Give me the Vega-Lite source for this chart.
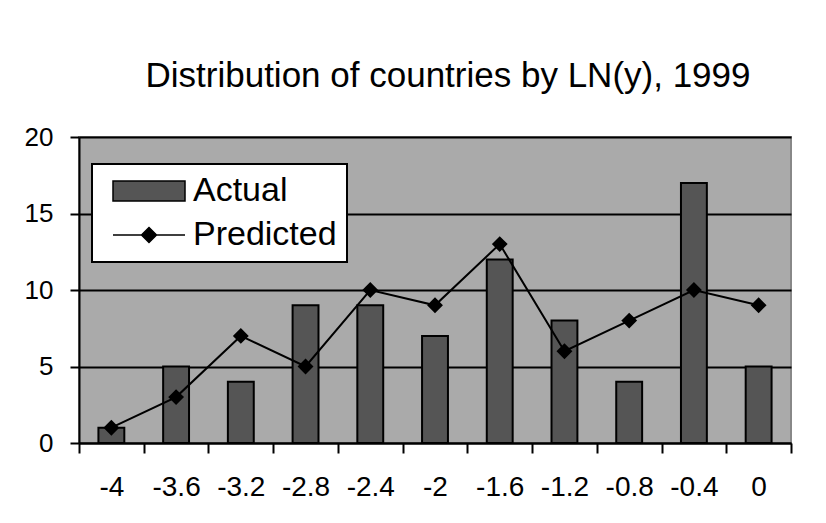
{
  "$schema": "https://vega.github.io/schema/vega-lite/v6.json",
  "width": 712,
  "height": 306,
  "autosize": {"type": "none"},
  "padding": {"left": 79, "top": 137, "right": 35, "bottom": 80},
  "background": "white",
  "title": {
    "text": "Distribution of countries by LN(y), 1999",
    "font": "Liberation Sans",
    "fontSize": 35,
    "fontWeight": "normal",
    "color": "black",
    "dx": 13,
    "offset": 30
  },
  "data": {
    "values": [
      {"bin": "-4", "Actual": 1, "Predicted": 1},
      {"bin": "-3.6", "Actual": 5, "Predicted": 3},
      {"bin": "-3.2", "Actual": 4, "Predicted": 7},
      {"bin": "-2.8", "Actual": 9, "Predicted": 5},
      {"bin": "-2.4", "Actual": 9, "Predicted": 10},
      {"bin": "-2", "Actual": 7, "Predicted": 9},
      {"bin": "-1.6", "Actual": 12, "Predicted": 13},
      {"bin": "-1.2", "Actual": 8, "Predicted": 6},
      {"bin": "-0.8", "Actual": 4, "Predicted": 8},
      {"bin": "-0.4", "Actual": 17, "Predicted": 10},
      {"bin": "0", "Actual": 5, "Predicted": 9}
    ]
  },
  "encoding": {
    "x": {
      "field": "bin",
      "type": "ordinal",
      "sort": null,
      "scale": {"paddingInner": 0, "paddingOuter": 0},
      "axis": {
        "title": null,
        "labelAngle": 0,
        "labelFontSize": 28,
        "labelPadding": 20,
        "tickBand": "extent",
        "tickSize": 10
      }
    }
  },
  "layer": [
    {
      "mark": {"type": "bar", "width": {"band": 0.4}, "stroke": "black", "strokeWidth": 2},
      "encoding": {
        "y": {
          "field": "Actual",
          "type": "quantitative",
          "scale": {"domain": [0, 20], "nice": false},
          "axis": {
            "title": null,
            "values": [0, 5, 10, 15, 20],
            "labelFontSize": 26,
            "labelPadding": 17,
            "tickSize": 9,
            "grid": true
          }
        },
        "color": {
          "datum": "Actual",
          "type": "nominal",
          "scale": {"domain": ["Actual"], "range": ["#555555"]},
          "legend": {
            "title": null,
            "orient": "none",
            "legendX": 13,
            "legendY": 27,
            "zindex": 2,
            "padding": 10,
            "symbolType": "M-3.6,-1H3.6V1H-3.6Z",
            "symbolSize": 400,
            "symbolOffset": 30,
            "symbolOpacity": 1,
            "labelOffset": 27,
            "labelFontSize": 34,
            "labelFont": "Liberation Sans",
            "labelColor": "black"
          }
        }
      }
    },
    {
      "mark": {"type": "line", "color": "black", "strokeWidth": 2},
      "encoding": {
        "y": {"field": "Predicted", "type": "quantitative"}
      }
    },
    {
      "mark": {"type": "point", "shape": "diamond", "size": 170, "filled": true, "stroke": "black", "strokeWidth": 2, "opacity": 1},
      "encoding": {
        "y": {"field": "Predicted", "type": "quantitative"},
        "color": {
          "datum": "Predicted",
          "type": "nominal",
          "scale": {"domain": ["Predicted"], "range": ["black"]},
          "legend": {
            "title": " ",
            "titleFontSize": 34,
            "titlePadding": 10,
            "orient": "none",
            "legendX": 13,
            "legendY": 27,
            "zindex": 1,
            "fillColor": "white",
            "strokeColor": "black",
            "padding": 10,
            "symbolType": "M-3.6,0H3.6M0,-0.75L0.75,0L0,0.75L-0.75,0Z",
            "symbolSize": 400,
            "symbolOffset": 30,
            "symbolOpacity": 1,
            "labelOffset": 27,
            "labelFontSize": 34,
            "labelFont": "Liberation Sans",
            "labelColor": "black"
          }
        }
      }
    }
  ],
  "resolve": {"scale": {"color": "independent"}, "legend": {"color": "independent"}},
  "config": {
    "font": "Liberation Sans",
    "view": {"fill": "#aaaaaa", "stroke": "#888888", "strokeWidth": 2},
    "legend": {"strokeWidth": 2},
    "axis": {
      "domainColor": "black",
      "domainWidth": 2,
      "tickColor": "black",
      "tickWidth": 2,
      "gridColor": "black",
      "gridWidth": 2,
      "gridOpacity": 1,
      "labelColor": "black",
      "labelFont": "Liberation Sans"
    }
  }
}
